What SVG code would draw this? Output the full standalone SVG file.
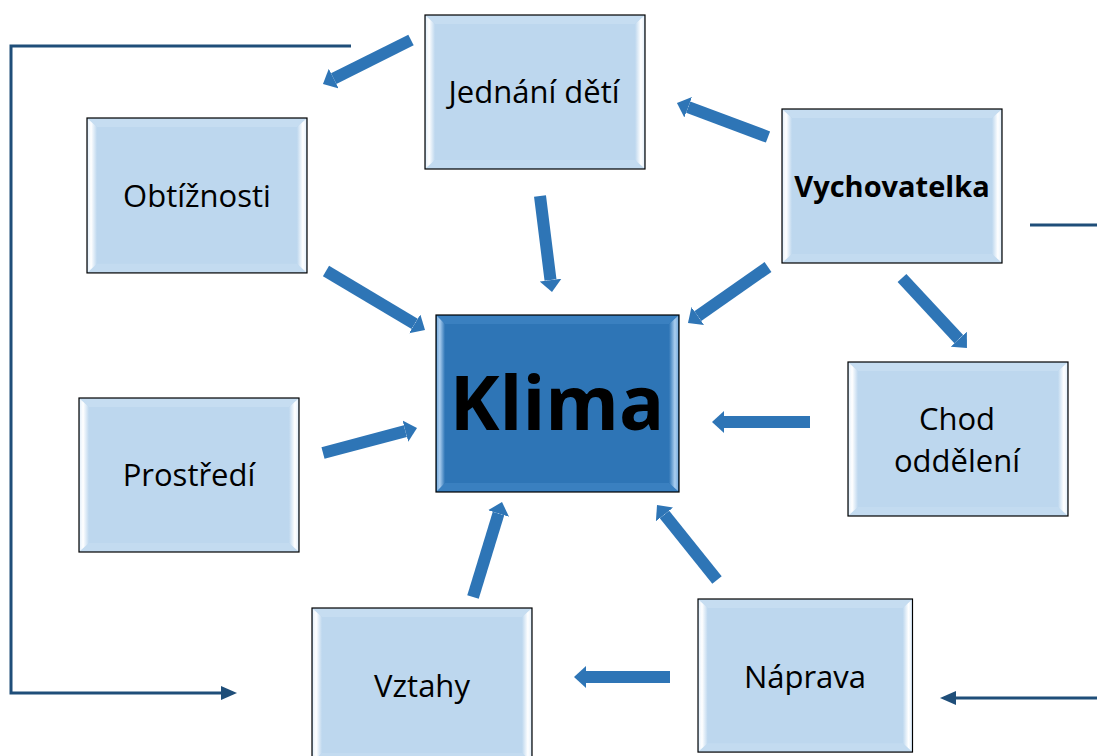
<svg xmlns="http://www.w3.org/2000/svg" width="1097" height="756" viewBox="0 0 1097 756">
<style>
.lbl{font-family:"Open Sans","Noto Sans","Liberation Sans",sans-serif;font-size:31px;fill:#000;text-anchor:middle}
.bold{font-weight:bold;font-size:29px}
.face{fill:#bdd7ee;stroke:#000;stroke-width:1.2}
.faceDark{fill:#2e75b6;stroke:#000;stroke-width:1.2}
.blk{stroke:#2e75b6;stroke-width:12;fill:none;marker-end:url(#bh)}
.thin{stroke:#1f4e79;stroke-width:3;fill:none}
</style>
<defs>
<marker id="bh" markerUnits="userSpaceOnUse" viewBox="0 0 12 22" markerWidth="12" markerHeight="22" refX="0" refY="11" orient="auto">
<path d="M0,0 L12,11 L0,22 z" fill="#2e75b6"/>
</marker>
<marker id="th" markerUnits="userSpaceOnUse" viewBox="0 0 16 14" markerWidth="16" markerHeight="14" refX="0" refY="7" orient="auto">
<path d="M0,0 L16,7 L0,14 z" fill="#1f4e79"/>
</marker>
<linearGradient id="gL" x1="0" y1="0" x2="1" y2="0"><stop offset="0" stop-color="#e8f2fb"/><stop offset="0.35" stop-color="#ffffff"/><stop offset="1" stop-color="#bdd7ee"/></linearGradient>
<linearGradient id="gR" x1="1" y1="0" x2="0" y2="0"><stop offset="0" stop-color="#e8f2fb"/><stop offset="0.35" stop-color="#ffffff"/><stop offset="1" stop-color="#bdd7ee"/></linearGradient>
<linearGradient id="gLd" x1="0" y1="0" x2="1" y2="0"><stop offset="0" stop-color="#7fb1e0"/><stop offset="0.35" stop-color="#a9cdef"/><stop offset="1" stop-color="#2e75b6"/></linearGradient>
<linearGradient id="gRd" x1="1" y1="0" x2="0" y2="0"><stop offset="0" stop-color="#7fb1e0"/><stop offset="0.35" stop-color="#a9cdef"/><stop offset="1" stop-color="#2e75b6"/></linearGradient>
<g id="bevel">
<rect class="face" x="0" y="0" width="220" height="154"/>
<polygon points="1,1 219,1 210,9 10,9" fill="#c6ddf1"/>
<polygon points="1,153 219,153 210,145 10,145" fill="#c3dbf0"/>
<polygon points="1,1 10,9 10,145 1,153" fill="url(#gL)"/>
<polygon points="219,1 210,9 210,145 219,153" fill="url(#gR)"/>
</g>
</defs>

<g id="connectors">
<polyline class="thin" points="351,46 11,46 11,693 221,693" marker-end="url(#th)"/>
<line class="thin" x1="1030" y1="225" x2="1097" y2="225"/>
<line class="thin" x1="1097" y1="698" x2="956" y2="698" marker-end="url(#th)"/>
<line class="blk" x1="411" y1="40" x2="333.7" y2="78.6"/>
<line class="blk" x1="768" y1="137" x2="688.2" y2="107.2"/>
<line class="blk" x1="540" y1="196" x2="550.5" y2="280.1"/>
<line class="blk" x1="326" y1="271" x2="414.7" y2="323.9"/>
<line class="blk" x1="768" y1="267" x2="697.8" y2="316.1"/>
<line class="blk" x1="902" y1="278" x2="958.8" y2="339.2"/>
<line class="blk" x1="810" y1="422" x2="724" y2="422"/>
<line class="blk" x1="323" y1="453" x2="405.4" y2="431.1"/>
<line class="blk" x1="473" y1="597" x2="498.5" y2="513.5"/>
<line class="blk" x1="717" y1="580" x2="664.5" y2="514.4"/>
<line class="blk" x1="670" y1="677" x2="586" y2="677"/>
</g>

<g id="node-jednani">
<use href="#bevel" transform="translate(425,15)"/>
<text class="lbl" x="534" y="103">Jednání dětí</text>
</g>
<g id="node-obtiznosti">
<use href="#bevel" transform="translate(87,118) scale(1,1.006)"/>
<text class="lbl" x="197" y="207">Obtížnosti</text>
</g>
<g id="node-vychovatelka">
<use href="#bevel" transform="translate(782,109)"/>
<text class="lbl bold" x="892" y="197">Vychovatelka</text>
</g>
<g id="node-prostredi">
<use href="#bevel" transform="translate(79,398)"/>
<text class="lbl" x="189" y="486">Prostředí</text>
</g>
<g id="node-chod">
<use href="#bevel" transform="translate(848,362)"/>
<text class="lbl" x="957" y="430">Chod</text>
<text class="lbl" x="957" y="472">oddělení</text>
</g>
<g id="node-vztahy">
<use href="#bevel" transform="translate(312,608)"/>
<text class="lbl" x="422" y="697">Vztahy</text>
</g>
<g id="node-naprava">
<use href="#bevel" transform="translate(698,599) scale(0.975,0.994)"/>
<text class="lbl" x="805" y="688">Náprava</text>
</g>
<g id="node-klima">
<rect class="faceDark" x="436" y="315" width="243" height="177"/>
<polygon points="437,316 678,316 669,324 445,324" fill="#3a80c0"/>
<polygon points="437,491 678,491 669,483 445,483" fill="#3a80c0"/>
<polygon points="437,316 445,324 445,483 437,491" fill="url(#gLd)"/>
<polygon points="678,316 669,324 669,483 678,491" fill="url(#gRd)"/>
<text class="lbl bold" x="557" y="430" style="font-size:75px">Klima</text>
</g>
</svg>
